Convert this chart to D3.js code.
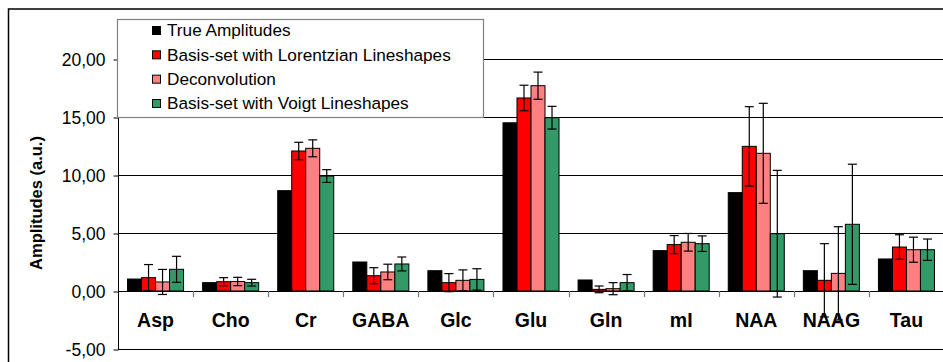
<!DOCTYPE html>
<html><head><meta charset="utf-8">
<script src="https://cdn.jsdelivr.net/npm/d3@7/dist/d3.min.js"></script>
<style>html,body{margin:0;padding:0;background:#fff;}svg{display:block;font-family:Arial,"Liberation Sans",sans-serif;}</style>
</head><body>
<svg id="c" width="943" height="362"></svg>
<script>
const categories = ["Asp","Cho","Cr","GABA","Glc","Glu","Gln","mI","NAA","NAAG","Tau"];
const seriesNames = ["True Amplitudes","Basis-set with Lorentzian Lineshapes","Deconvolution","Basis-set with Voigt Lineshapes"];
const trueAmp    = [1.03, 0.72, 8.65, 2.50, 1.75, 14.50, 0.95, 3.48, 8.48, 1.75, 2.76];
const lorentz    = [1.15, 0.80, 12.07, 1.32, 0.72, 16.64, 0.14, 4.00, 12.47, 0.92, 3.79];
const lorentzErr = [1.13, 0.35, 0.75, 0.69, 0.78, 1.10, 0.29, 0.78, 3.42, 3.16, 1.06];
const deconv     = [0.78, 0.82, 12.30, 1.64, 0.92, 17.70, 0.20, 4.20, 11.87, 1.52, 3.56];
const deconvErr  = [1.08, 0.36, 0.73, 0.67, 0.90, 1.17, 0.52, 0.76, 4.31, 4.02, 1.08];
const voigt      = [1.87, 0.72, 9.91, 2.33, 1.00, 14.94, 0.72, 4.08, 4.94, 5.75, 3.56];
const voigtErr   = [1.12, 0.29, 0.55, 0.60, 0.92, 0.98, 0.70, 0.67, 5.46, 5.18, 0.92];
const yTicks = [-5, 0, 5, 10, 15, 20];
const colors = ["#000000","#FF0000","#FF8080","#339966"];

const values = [trueAmp, lorentz, deconv, voigt];
const errors = [null, lorentzErr, deconvErr, voigtErr];

const svg = d3.select("#c");
const left = 118, right = 944, bottom = 349, top0 = 59;
const y = d3.scaleLinear().domain([-5, 20]).range([bottom, top0]);
const x = d3.scaleBand().domain(categories).range([left, right]).paddingInner(0).paddingOuter(0);
const xs = d3.scaleBand().domain(d3.range(4)).range([0, x.bandwidth()]).paddingInner(0).paddingOuter(0.68);
const fmt = v => d3.format(".2f")(v).replace(".", ",").replace("\u2212", "-");

// outer border
svg.append("rect").attr("x", 8.5).attr("y", 9).attr("width", 960).attr("height", 400)
  .attr("fill", "none").attr("stroke", "#000").attr("stroke-width", 1.5);

// gridlines
svg.append("g").selectAll("line").data(yTicks).join("line")
  .attr("x1", left).attr("x2", 943).attr("y1", d => Math.round(y(d)) + 0.5).attr("y2", d => Math.round(y(d)) + 0.5)
  .attr("stroke", "#000").attr("stroke-width", 1);

// y axis
const yTop = y.invert(19);
svg.append("line").attr("x1", left + 0.5).attr("x2", left + 0.5).attr("y1", y(-5)).attr("y2", y(yTop)).attr("stroke", "#000");
const yAxis = d3.axisLeft(y).tickValues(yTicks).tickSize(5).tickFormat(fmt);
const ga = svg.append("g").attr("transform", `translate(${left + 0.5},0.5)`).call(yAxis);
ga.select(".domain").remove();
ga.selectAll("line").attr("stroke", "#000");
ga.selectAll("text").attr("font-size", "17.5px").attr("fill", "#000").attr("x", -13).attr("dy", "0.36em")
  .attr("font-family", "Arial, 'Liberation Sans', sans-serif");

// category ticks
svg.append("g").selectAll("line").data(categories.slice(1)).join("line")
  .attr("x1", d => Math.round(x(d)) + 0.5).attr("x2", d => Math.round(x(d)) + 0.5)
  .attr("y1", y(0)).attr("y2", y(0) + 6).attr("stroke", "#777").attr("stroke-width", 1.2);

// bars
categories.forEach((c, i) => {
  const g = svg.append("g").attr("transform", `translate(${x(c)},0)`);
  values.forEach((arr, s) => {
    const v = arr[i];
    const y0 = y(Math.max(0, v)), y1 = y(Math.min(0, v));
    g.append("rect").attr("x", xs(s)).attr("width", xs.bandwidth())
      .attr("y", y0).attr("height", Math.max(0.5, y1 - y0))
      .attr("fill", colors[s]).attr("stroke", "#000").attr("stroke-width", 1);
  });
  errors.forEach((arr, s) => {
    if (!arr) return;
    const v = values[s][i], e = arr[i];
    const cx = xs(s) + xs.bandwidth() / 2;
    const eg = g.append("g").attr("stroke", "#000").attr("stroke-width", 1.2);
    eg.append("line").attr("x1", cx).attr("x2", cx).attr("y1", y(v + e)).attr("y2", y(v - e));
    [v + e, v - e].forEach(t => {
      eg.append("line").attr("x1", cx - 4.5).attr("x2", cx + 4.5).attr("y1", y(t)).attr("y2", y(t));
    });
  });
});

// category labels
svg.append("g").selectAll("text").data(categories).join("text")
  .attr("x", d => x(d) + x.bandwidth() / 2).attr("y", 327)
  .attr("text-anchor", "middle").attr("font-weight", "bold").attr("font-size", "19.5px").text(d => d);

// y axis title
svg.append("text").attr("transform", "translate(42,203) rotate(-90)")
  .attr("text-anchor", "middle").attr("font-weight", "bold").attr("font-size", "16.5px").text("Amplitudes (a.u.)");

// legend
const lg = svg.append("g");
lg.append("rect").attr("x", 117.5).attr("y", 19.5).attr("width", 366).attr("height", 98)
  .attr("fill", "#fff").attr("stroke", "#808080").attr("stroke-width", 1.2);
const rowY = d3.scalePoint().domain(d3.range(4)).range([30, 103]);
seriesNames.forEach((n, s) => {
  lg.append("rect").attr("x", 152.5).attr("y", rowY(s) - 3.5).attr("width", 8).attr("height", 8)
    .attr("fill", colors[s]).attr("stroke", "#000").attr("stroke-width", 1);
  lg.append("text").attr("x", 167).attr("y", rowY(s)).attr("dy", "0.36em")
    .attr("font-size", "17.2px").text(n);
});
</script>
</body></html>
